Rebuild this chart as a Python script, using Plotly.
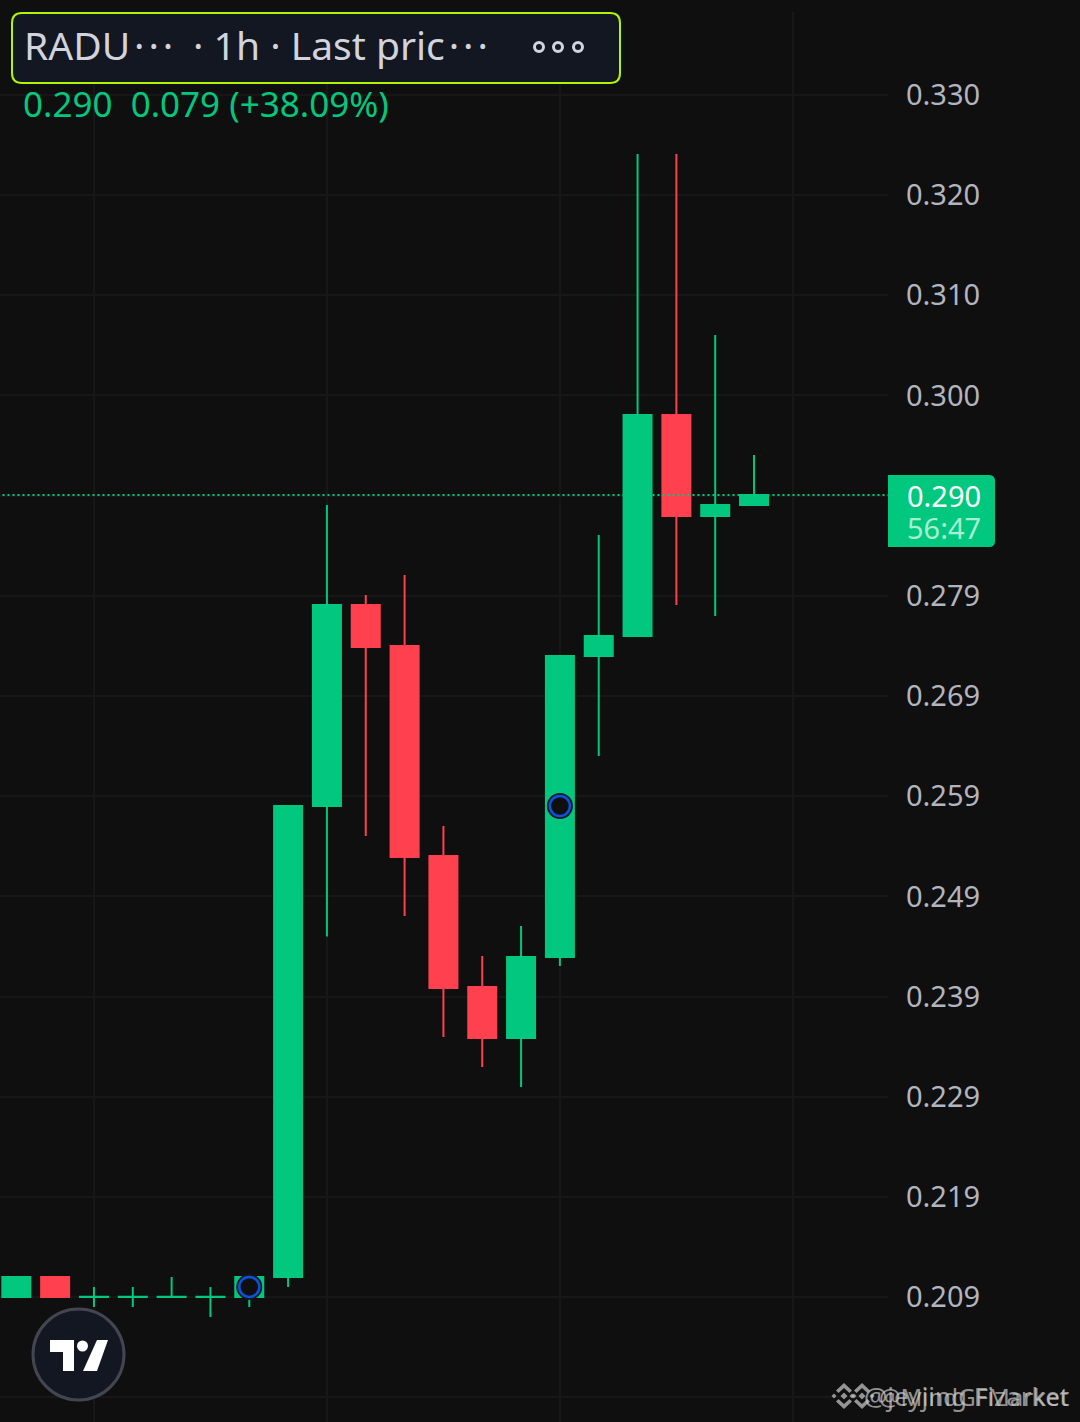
import plotly.graph_objects as go

# -----------------------------
# Data
# -----------------------------
bars = list(range(20))
opens = [0.20901, 0.21102, 0.20900, 0.20900, 0.20900, 0.20900, 0.20901, 0.21102, 0.25843, 0.27866,
         0.27454, 0.25340, 0.24021, 0.23508, 0.24323, 0.27353, 0.27554, 0.29779, 0.28762, 0.28873]
highs = [0.21102, 0.21102, 0.21002, 0.21002, 0.21102, 0.21002, 0.21102, 0.25843, 0.28873, 0.27967,
         0.28168, 0.25642, 0.24333, 0.24635, 0.27353, 0.28571, 0.32406, 0.32406, 0.30584, 0.29376]
lows = [0.20901, 0.20901, 0.20800, 0.20800, 0.20900, 0.20700, 0.20800, 0.21002, 0.24530, 0.25541,
        0.24736, 0.23518, 0.23216, 0.23015, 0.24232, 0.26346, 0.27554, 0.27866, 0.27756, 0.28873]
closes = [0.21102, 0.20901, 0.20902, 0.20902, 0.20902, 0.20902, 0.21102, 0.25843, 0.27866, 0.27444,
          0.25330, 0.24011, 0.23508, 0.24323, 0.27353, 0.27554, 0.29779, 0.28762, 0.28873, 0.28974]

marker_bars = [6, 14]
marker_prices = [0.21002, 0.25843]

last_price = 0.28974

price_ticks = [0.33000, 0.31992, 0.30983, 0.29975, 0.28967, 0.27958, 0.26950,
               0.25942, 0.24933, 0.23925, 0.22917, 0.21908, 0.20900, 0.19892]
price_labels = ["0.330", "0.320", "0.310", "0.300", "0.290", "0.279", "0.269",
                "0.259", "0.249", "0.239", "0.229", "0.219", "0.209", ""]
grid_bars = [2, 8, 14, 20]

# -----------------------------
# Colours and page size
# -----------------------------
W, H = 1080, 1422
PLOT_RIGHT = 888
PLOT_TOP = 12
BG = "#0f0f0f"
GRID = "#171717"
GREEN = "#02c77e"
RED = "#ff404e"
FONT = "Noto Sans"
WATERMARK = "rgba(205,205,205,0.7)"


def px(x):
    return x / W


def py(y):
    return 1 - y / H


def pix_path(points):
    return "M" + " L".join(f"{px(x):.5f},{py(y):.5f}" for x, y in points) + " Z"


def pix_shape(points, color):
    return dict(type="path", xref="paper", yref="paper", fillcolor=color,
                line=dict(width=0), path=pix_path(points))


def pix_label(x, y, text, size, color, anchor="left"):
    return dict(x=px(x), y=py(y), xref="paper", yref="paper", text=text, showarrow=False,
                xanchor=anchor, yanchor="middle", font=dict(family=FONT, size=size, color=color))


def diamond(cx, cy, r):
    return [(cx, cy - r), (cx + r, cy), (cx, cy + r), (cx - r, cy)]


def exchange_logo(cx, cy):
    parts = [diamond(cx, cy, 3.5), diamond(cx - 10, cy, 2.5), diamond(cx + 10, cy, 2.5)]
    for sign in (-1, 1):
        parts.append([(cx, cy + sign * 13), (cx + 8, cy + sign * 5.5), (cx + 5.5, cy + sign * 3),
                      (cx, cy + sign * 8), (cx - 5.5, cy + sign * 3), (cx - 8, cy + sign * 5.5)])
    return [pix_shape(p, WATERMARK) for p in parts]


# -----------------------------
# Create chart
# -----------------------------
fig = go.Figure()

fig.add_trace(go.Candlestick(
    x=bars, open=opens, high=highs, low=lows, close=closes,
    whiskerwidth=0,
    increasing=dict(fillcolor=GREEN, line=dict(color=GREEN, width=2)),
    decreasing=dict(fillcolor=RED, line=dict(color=RED, width=2)),
    name="RADU",
))

# Last price line
fig.add_trace(go.Scatter(
    x=[-1, 23], y=[last_price, last_price], mode="lines",
    line=dict(color=GREEN, width=2, dash="2px,3px"),
    hoverinfo="skip",
))

# Event markers
fig.add_trace(go.Scatter(
    x=marker_bars, y=marker_prices, mode="markers",
    marker=dict(size=26, color="#131722"),
    hoverinfo="skip",
))
fig.add_trace(go.Scatter(
    x=marker_bars, y=marker_prices, mode="markers",
    marker=dict(size=20, color=BG, line=dict(color="#0d52dc", width=2.5)),
    hoverinfo="skip",
))

# -----------------------------
# Overlays in page pixels
# -----------------------------
shapes = []

# header box
r = 10
x0, x1, y0, y1 = 12, 620, 13, 83
shapes.append(dict(
    type="path", xref="paper", yref="paper",
    path=(f"M{px(x0 + r)},{py(y0)} L{px(x1 - r)},{py(y0)} Q{px(x1)},{py(y0)} {px(x1)},{py(y0 + r)} "
          f"L{px(x1)},{py(y1 - r)} Q{px(x1)},{py(y1)} {px(x1 - r)},{py(y1)} "
          f"L{px(x0 + r)},{py(y1)} Q{px(x0)},{py(y1)} {px(x0)},{py(y1 - r)} "
          f"L{px(x0)},{py(y0 + r)} Q{px(x0)},{py(y0)} {px(x0 + r)},{py(y0)} Z"),
    fillcolor="#131722", line=dict(color="#b2f500", width=2),
))
for cx in [539, 558, 578]:
    shapes.append(dict(type="circle", xref="paper", yref="paper",
                       x0=px(cx - 4.5), x1=px(cx + 4.5), y0=py(47 + 4.5), y1=py(47 - 4.5),
                       line=dict(color="#d1d4dc", width=3)))

# last price tag
r = 6
x0, x1, y0, y1 = 888, 995, 475, 547
shapes.append(dict(
    type="path", xref="paper", yref="paper",
    path=(f"M{px(x0)},{py(y0)} L{px(x1 - r)},{py(y0)} Q{px(x1)},{py(y0)} {px(x1)},{py(y0 + r)} "
          f"L{px(x1)},{py(y1 - r)} Q{px(x1)},{py(y1)} {px(x1 - r)},{py(y1)} L{px(x0)},{py(y1)} Z"),
    fillcolor=GREEN, line=dict(width=0),
))

# TradingView badge
shapes.append(dict(type="circle", xref="paper", yref="paper",
                   x0=px(33), x1=px(124), y0=py(1400), y1=py(1309),
                   fillcolor="#131722", line=dict(color="#434651", width=3)))
shapes.append(pix_shape([(50, 1340), (74, 1340), (74, 1371), (63, 1371), (63, 1352), (50, 1352)], "#ffffff"))
shapes.append(pix_shape([(97, 1340), (108, 1340), (97, 1371), (83, 1371)], "#ffffff"))
shapes.append(dict(type="circle", xref="paper", yref="paper", fillcolor="#ffffff", line=dict(width=0),
                   x0=px(77), x1=px(88), y0=py(1351.5), y1=py(1340.5)))

# watermark logos
shapes += exchange_logo(844, 1396)
shapes += exchange_logo(862, 1396)

annotations = [
    pix_label(22, 45, "RADU\u200a·\u200a·\u200a·", 39, "#d1d4dc"),
    pix_label(191, 45, "· 1h · Last pric\u200a·\u200a·\u200a·", 39, "#d1d4dc"),
    pix_label(21, 104, "0.290  0.079 (+38.09%)", 35, GREEN),
    pix_label(944, 495, "0.290", 29, "#ffffff", "center"),
    pix_label(944, 527, "56:47", 29, "#a6efd3", "center"),
    pix_label(1071, 1396, "@MindGFMarket", 24, WATERMARK, "right"),
    pix_label(1071, 1396, "@jeyjing Fizarket", 26, WATERMARK, "right"),
]

# -----------------------------
# Layout
# -----------------------------
fig.update_layout(
    width=W, height=H,
    margin=dict(l=0, r=0, t=0, b=0),
    paper_bgcolor=BG, plot_bgcolor=BG,
    showlegend=False,
    boxgap=0.279, boxgroupgap=0,
    shapes=shapes,
    annotations=annotations,
    xaxis=dict(
        domain=[0, PLOT_RIGHT / W], range=[-0.42, 22.45],
        rangeslider=dict(visible=False),
        tickmode="array", tickvals=grid_bars, showticklabels=False,
        showgrid=True, gridcolor=GRID, gridwidth=2, zeroline=False, showline=False,
    ),
    yaxis=dict(
        domain=[0, 1 - PLOT_TOP / H],
        side="right", range=[0.19642, 0.33835],
        tickmode="array", tickvals=price_ticks, ticktext=price_labels,
        tickfont=dict(family=FONT, size=29, color="#b2b5be"),
        ticks="", ticklabelstandoff=17,
        showgrid=True, gridcolor=GRID, gridwidth=2, zeroline=False, showline=False,
    ),
)

fig.write_html("out.html", config=dict(displayModeBar=False),
               post_script="document.body.style.margin='0';document.body.style.overflow='hidden';")
